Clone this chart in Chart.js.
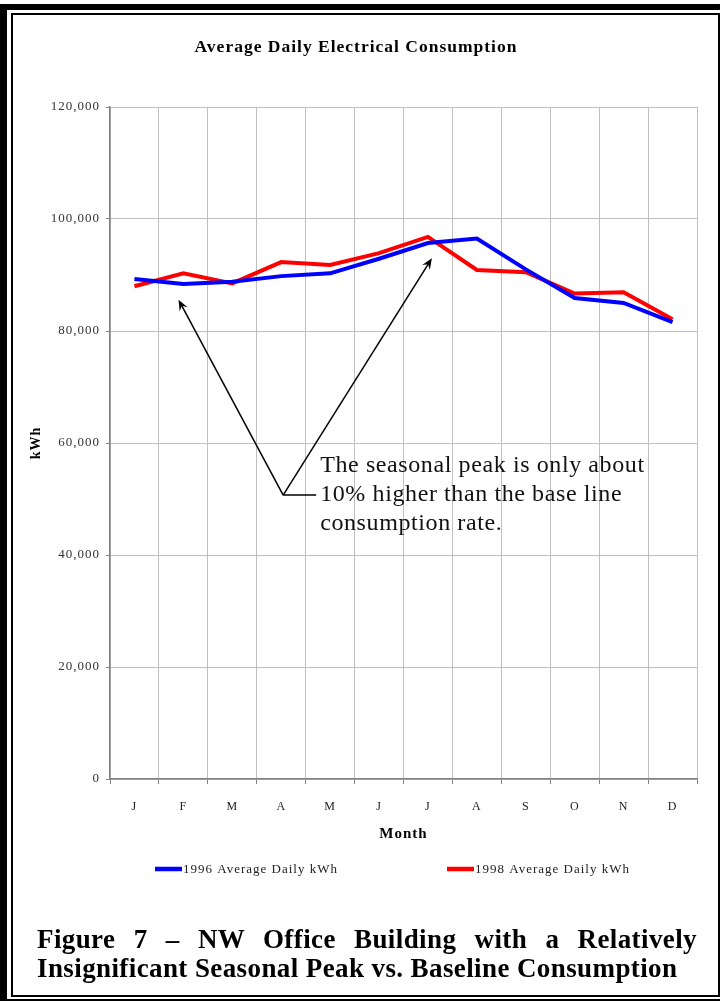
<!DOCTYPE html>
<html>
<head>
<meta charset="utf-8">
<script src="https://cdn.jsdelivr.net/npm/chart.js@4"></script>
<style>
  body { margin: 0; background: #fff; }
  #wrap { position: relative; width: 720px; height: 1001px; overflow: hidden; }
  #chart { position: absolute; left: 0; top: 0; }
  .blk { position: absolute; background: #000; }
  #inner { position: absolute; left: 11px; top: 13px; width: 709px; height: 984px; border: 2px solid #000; box-sizing: border-box; }
  #caption {
    position: absolute; left: 37px; top: 925px; width: 660px;
    font-family: "Liberation Serif", serif; font-weight: bold; font-size: 27px;
    letter-spacing: 0.4px; line-height: 29px; text-align: justify; color: #000;
  }
</style>
</head>
<body>
<div id="wrap">
  <canvas id="chart" width="720" height="900"></canvas>
  <div class="blk" style="left:0;top:4px;width:7px;height:997px"></div>
  <div class="blk" style="left:0;top:4px;width:720px;height:6px"></div>
  <div class="blk" style="left:0;top:999px;width:720px;height:2px"></div>
  <div id="inner"></div>
  <div id="caption">Figure 7 – NW Office Building with a Relatively Insignificant Seasonal Peak vs. Baseline Consumption</div>
</div>
<script>
// data
var months = ["J", "F", "M", "A", "M", "J", "J", "A", "S", "O", "N", "D"];
var kwh1996 = [89300, 88400, 88800, 89800, 90300, 92900, 95700, 96500, 91000, 85900, 85000, 81600];
var kwh1998 = [88000, 90300, 88500, 92300, 91800, 93900, 96800, 90900, 90500, 86700, 86900, 82100];
var yTicks = [0, 20000, 40000, 60000, 80000, 100000, 120000];

// callout: [category index, value]
var calloutFrom = [3.04, 50700];
var calloutTips = [[0.9, 85600], [6.08, 93000]];
var calloutText = ["The seasonal peak is only about", "10% higher than the base line", "consumption rate."];

var serif = "'Liberation Serif', serif";

function arrow(ctx, x1, y1, x2, y2) {
    var a = Math.atan2(y2 - y1, x2 - x1);
    var len = 11, w = 4.5;
    ctx.beginPath();
    ctx.moveTo(x1, y1);
    ctx.lineTo(x2 - Math.cos(a) * 6, y2 - Math.sin(a) * 6);
    ctx.stroke();
    ctx.beginPath();
    ctx.moveTo(x2, y2);
    ctx.lineTo(x2 - Math.cos(a) * len - Math.sin(a) * w, y2 - Math.sin(a) * len + Math.cos(a) * w);
    ctx.lineTo(x2 - Math.cos(a) * 7, y2 - Math.sin(a) * 7);
    ctx.lineTo(x2 - Math.cos(a) * len + Math.sin(a) * w, y2 - Math.sin(a) * len - Math.cos(a) * w);
    ctx.closePath();
    ctx.fill();
}

// the original uses a wide Garamond-like face; widen the text a bit
var spacing = {
    id: 'spacing',
    beforeLayout: function (chart) { chart.ctx.letterSpacing = '1px'; },
    beforeDraw: function (chart) { chart.ctx.letterSpacing = '1px'; }
};

var callout = {
    id: 'callout',
    afterDatasetsDraw: function (chart) {
        var ctx = chart.ctx, xs = chart.scales.x, ys = chart.scales.y;
        var ox = xs.getPixelForValue(calloutFrom[0]), oy = ys.getPixelForValue(calloutFrom[1]);
        ctx.save();
        ctx.strokeStyle = '#000';
        ctx.fillStyle = '#000';
        ctx.lineWidth = 1.5;
        calloutTips.forEach(function (t) {
            arrow(ctx, ox, oy, xs.getPixelForValue(t[0]), ys.getPixelForValue(t[1]));
        });
        ctx.beginPath();
        ctx.moveTo(ox, oy);
        ctx.lineTo(ox + 33, oy);
        ctx.stroke();
        ctx.font = '24px ' + serif;
        ctx.letterSpacing = '0.6px';
        ctx.fillStyle = '#111';
        ctx.textBaseline = 'middle';
        calloutText.forEach(function (s, i) {
            ctx.fillText(s, ox + 37, oy - 29 + i * 29);
        });
        ctx.restore();
    }
};

var lineLegend = {
    id: 'lineLegend',
    afterDraw: function (chart, args, opts) {
        var ctx = chart.ctx;
        ctx.save();
        ctx.font = '13px ' + serif;
        ctx.letterSpacing = '1px';
        ctx.textBaseline = 'middle';
        chart.data.datasets.forEach(function (ds, i) {
            var x = opts.x[i], y = opts.y;
            ctx.strokeStyle = ds.borderColor;
            ctx.lineWidth = 4.5;
            ctx.beginPath();
            ctx.moveTo(x, y);
            ctx.lineTo(x + 27, y);
            ctx.stroke();
            ctx.fillStyle = '#222';
            ctx.fillText(ds.label, x + 28, y + 1);
        });
        ctx.restore();
    }
};

var ctx = document.getElementById('chart').getContext('2d');
var chart = new Chart(ctx, {
    type: 'line',
    data: {
        labels: months,
        datasets: [
            {
                label: "1996 Average Daily kWh",
                borderColor: '#0000ff',
                backgroundColor: '#0000ff',
                borderWidth: 4,
                pointRadius: 0,
                data: kwh1996
            },
            {
                label: "1998 Average Daily kWh",
                borderColor: '#ff0000',
                backgroundColor: '#ff0000',
                borderWidth: 4,
                pointRadius: 0,
                data: kwh1998
            }
        ]
    },
    plugins: [spacing, callout, lineLegend],
    options: {
        responsive: false,
        animation: false,
        layout: { padding: { left: 15, right: 23, top: 37, bottom: 55 } },
        plugins: {
            legend: { display: false },
            tooltip: { enabled: false },
            title: {
                display: true,
                text: 'Average Daily Electrical Consumption',
                color: '#000',
                font: { family: serif, size: 17.5, weight: 'bold' },
                padding: { top: 0, bottom: 49 }
            },
            lineLegend: { x: [155, 447], y: 869 }
        },
        scales: {
            x: {
                offset: true,
                grid: { offset: true, color: '#c0c0c0', tickColor: '#808080', tickLength: 5 },
                border: { color: '#808080', width: 1.5 },
                ticks: { color: '#222', padding: 16, font: { family: serif, size: 12 } },
                title: {
                    display: true, text: 'Month', color: '#000',
                    font: { family: serif, size: 15, weight: 'bold' },
                    padding: { top: 0, bottom: 2 }
                },
                afterFit: function (s) { s.height = 66; }
            },
            y: {
                min: 0,
                max: 120000,
                afterBuildTicks: function (s) { s.ticks = yTicks.map(function (v) { return { value: v }; }); },
                grid: { color: '#c0c0c0', tickColor: '#808080', tickLength: 4 },
                border: { color: '#808080', width: 1.5 },
                ticks: {
                    color: '#333', padding: 6, font: { family: serif, size: 13 },
                    callback: function (v) { return v.toLocaleString('en-US'); }
                },
                title: {
                    display: true, text: 'kWh', color: '#000',
                    font: { family: serif, size: 14, weight: 'bold' },
                    padding: { top: 13, bottom: 0 }
                },
                afterFit: function (s) { s.width = 95; }
            }
        }
    }
});
</script>
</body>
</html>
